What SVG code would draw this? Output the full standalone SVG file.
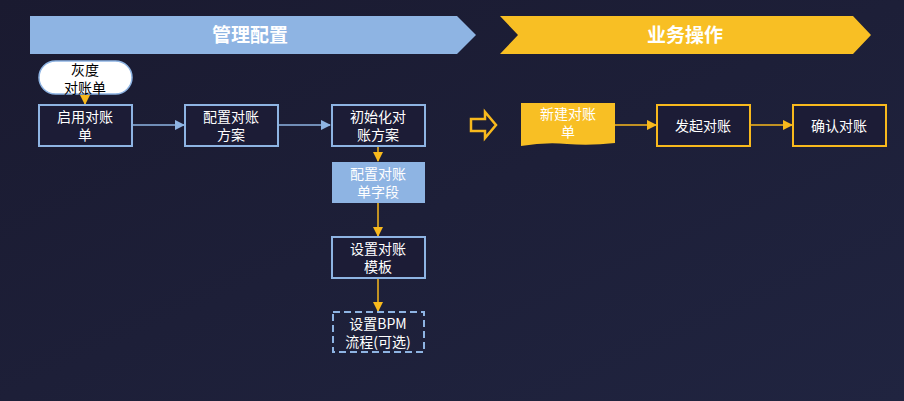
<svg xmlns="http://www.w3.org/2000/svg" width="904" height="401" viewBox="0 0 904 401">
<defs>
<linearGradient id="bg" x1="0" y1="0" x2="1" y2="1"><stop offset="0" stop-color="#1a1a30"/><stop offset="1" stop-color="#202440"/></linearGradient>
<marker id="mb" viewBox="0 0 10 10" refX="9" refY="5" markerWidth="7" markerHeight="7" orient="auto"><path d="M0,0L10,5L0,10z" fill="#8eb4e3"/></marker>
<marker id="my" viewBox="0 0 10 10" refX="9" refY="5" markerWidth="7" markerHeight="7" orient="auto"><path d="M0,0L10,5L0,10z" fill="#f8b91d"/></marker>
</defs>
<style>
text{font-family:"Noto Sans CJK SC","Liberation Sans",sans-serif;font-size:14px;fill:#fff;text-anchor:middle}
.b{fill:#1c1c36;stroke:#8eb4e3;stroke-width:2}
.y{fill:#1c1c36;stroke:#f8b91d;stroke-width:2}
.h{font-size:19px;font-weight:bold}
</style>
<rect width="904" height="401" fill="url(#bg)"/>
<g id="banner1"><path d="M30,16H457L476,35L457,54H30z" fill="#8eb4e3"/><text class="h" x="250" y="42">管理配置</text></g>
<g id="banner2"><path d="M500,16H853L871,35L853,54H500L518,35z" fill="#f8bf24"/><text class="h" x="685" y="42">业务操作</text></g>
<g id="connectors" fill="none">
<line x1="85" y1="94" x2="85" y2="104" stroke="#f8b91d" stroke-width="1.5" marker-end="url(#my)"/>
<line x1="132" y1="125" x2="184" y2="125" stroke="#8eb4e3" stroke-width="1.5" marker-end="url(#mb)"/>
<line x1="278" y1="125" x2="330" y2="125" stroke="#8eb4e3" stroke-width="1.5" marker-end="url(#mb)"/>
<line x1="378" y1="146" x2="378" y2="161" stroke="#f8b91d" stroke-width="1.5" marker-end="url(#my)"/>
<line x1="378" y1="203" x2="378" y2="236" stroke="#f8b91d" stroke-width="1.5" marker-end="url(#my)"/>
<line x1="378" y1="278" x2="378" y2="311" stroke="#f8b91d" stroke-width="1.5" marker-end="url(#my)"/>
<line x1="615" y1="125" x2="656" y2="125" stroke="#f8b91d" stroke-width="1.5" marker-end="url(#my)"/>
<line x1="750" y1="125" x2="792" y2="125" stroke="#f8b91d" stroke-width="1.5" marker-end="url(#my)"/>
<path d="M471,119H485V112L496,125L485,138V131H471z" stroke="#f8b91d" stroke-width="2.5"/>
</g>
<g id="gray"><rect x="39" y="61" width="93" height="33" rx="16.5" fill="#fff" stroke="#8eb4e3" stroke-width="1.5"/><text x="85" y="75" style="fill:#000">灰度</text><text x="85" y="93" style="fill:#000">对账单</text></g>
<g id="n1"><rect class="b" x="39" y="105" width="93" height="41"/><text x="85" y="122">启用对账</text><text x="85" y="140">单</text></g>
<g id="n2"><rect class="b" x="185" y="105" width="93" height="41"/><text x="231" y="122">配置对账</text><text x="231" y="140">方案</text></g>
<g id="n3"><rect class="b" x="332" y="105" width="93" height="41"/><text x="378" y="122">初始化对</text><text x="378" y="140">账方案</text></g>
<g id="n4"><rect x="332" y="162" width="93" height="41" fill="#8eb4e3"/><text x="378" y="179">配置对账</text><text x="378" y="197">单字段</text></g>
<g id="n5"><rect class="b" x="332" y="237" width="93" height="41"/><text x="378" y="254">设置对账</text><text x="378" y="272">模板</text></g>
<g id="n6"><rect x="333" y="312" width="91" height="40" fill="none" stroke="#8eb4e3" stroke-width="2" stroke-dasharray="7,4"/><text x="378" y="329">设置BPM</text><text x="378" y="347">流程(可选)</text></g>
<g id="n7"><path d="M521,103H615V143Q590,146 567,144Q545,142 521,146z" fill="#f8bf24"/><text x="568" y="119">新建对账</text><text x="568" y="137">单</text></g>
<g id="n8"><rect class="y" x="657" y="105" width="93" height="41"/><text x="703" y="131">发起对账</text></g>
<g id="n9"><rect class="y" x="793" y="105" width="93" height="41"/><text x="839" y="131">确认对账</text></g>
</svg>
